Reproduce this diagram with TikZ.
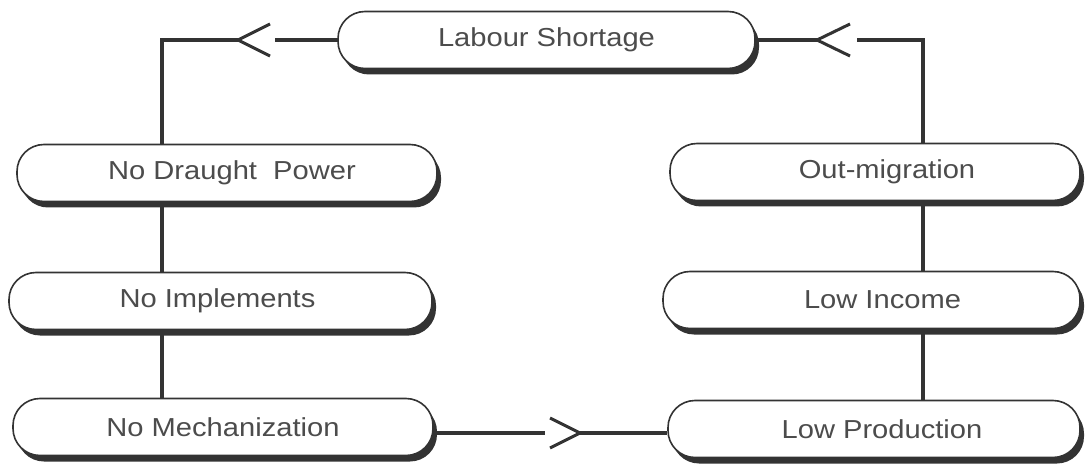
\documentclass[tikz,border=0pt]{standalone}
\usepackage{fontspec}
\setmainfont{Liberation Sans}[FakeStretch=1.12]
\usetikzlibrary{shadows}
\begin{document}
\begin{tikzpicture}[x=1pt,y=-1pt,
  box/.style={draw=black!80, line width=1.6pt, fill=white, rounded corners=27pt,
    minimum height=57pt, inner sep=0pt, font=\fontsize{26}{30}\selectfont, text=black!70,
    drop shadow={shadow xshift=4pt, shadow yshift=-6pt, fill=black!80, opacity=1}},
  conn/.style={draw=black!80, line width=4.5pt},
  vee/.style={draw=black!80, line width=3pt, line join=miter}]
\fill[white] (0,0) rectangle (1087,465);
\useasboundingbox (0,0) rectangle (1087,465);
% boxes
\node[box, minimum width=417pt] (LS)  at (546.5,40) {Labour Shortage};
\node[box, minimum width=420pt] (NDP) at (227,173) {\hspace*{10pt}No Draught\ \ Power};
\node[box, minimum width=423pt] (NI)  at (220.5,301) {No Implements\hspace*{6pt}};
\node[box, minimum width=420pt] (NM)  at (223,427) {No Mechanization};
\node[box, minimum width=410pt] (OM)  at (875,172) {\hspace*{24pt}Out-migration};
\node[box, minimum width=417pt] (LI)  at (871.5,300) {\hspace*{22pt}Low Income};
\node[box, minimum width=412pt] (LP)  at (874,429) {\hspace*{16pt}Low Production};
% coordinates of arrow tips, gaps and corners
\coordinate (g1) at (275,40);
\coordinate (t1) at (238,40);
\coordinate (c1) at (162,40);
\coordinate (t2) at (817,40);
\coordinate (g2) at (857,40);
\coordinate (c2) at (923,40);
\coordinate (g3) at (545,433);
\coordinate (t3) at (580,433);
% top left: Labour Shortage -> No Draught Power
\draw[conn] (LS.west) -- (g1);
\draw[vee] (t1) ++(32,-16) -- (t1) -- ++(32,16);
\draw[conn] (t1) -- (c1) -- (c1 |- NDP.north);
% left column
\draw[conn] (c1 |- NDP.south) -- (c1 |- NI.north);
\draw[conn] (c1 |- NI.south) -- (c1 |- NM.north);
% bottom: No Mechanization -> Low Production
\draw[conn] (NM.east |- g3) -- (g3);
\draw[vee] (t3) ++(-30,-15) -- (t3) -- ++(-30,15);
\draw[conn] (t3) -- (LP.west |- t3);
% right column
\draw[conn] (c2 |- LP.north) -- (c2 |- LI.south);
\draw[conn] (c2 |- LI.north) -- (c2 |- OM.south);
% top right: Out-migration -> Labour Shortage
\draw[conn] (c2 |- OM.north) -- (c2) -- (g2);
\draw[vee] (t2) ++(33,-16) -- (t2) -- ++(33,16);
\draw[conn] (t2) -- (LS.east);
\end{tikzpicture}
\end{document}
